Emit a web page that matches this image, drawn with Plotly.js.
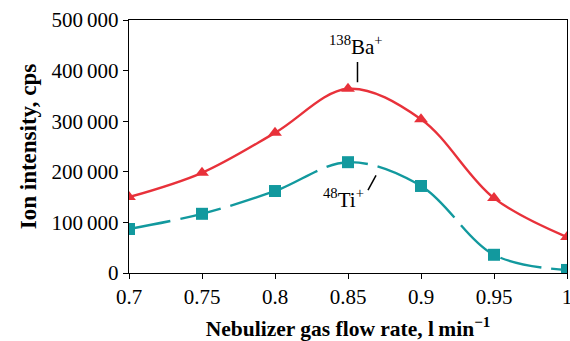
<!DOCTYPE html>
<html><head><meta charset="utf-8">
<script src="https://cdn.plot.ly/plotly-3.0.1.min.js"></script>
<style>body{margin:0;background:#fff}#c{width:570px;height:341px}</style>
</head><body><div id="c"></div>
<script>
const flow = [0.7, 0.75, 0.8, 0.85, 0.9, 0.95, 1.0];
const ba138 = [150000, 198000, 277000, 364000, 304000, 148000, 71000];
const ti48 = [87000, 117000, 162000, 219000, 172000, 36000, 6000];
const xTickVals = [0.7, 0.75, 0.8, 0.85, 0.9, 0.95, 1.0];
const xTickText = ['0.7', '0.75', '0.8', '0.85', '0.9', '0.95', '1'];
const yTickVals = [0, 100000, 200000, 300000, 400000, 500000];
const yTickText = ['0', '100\u2009000', '200\u2009000', '300\u2009000', '400\u2009000', '500\u2009000'];

const font = 'Liberation Serif';
const traces = [
  {x: flow, y: ti48, mode: 'lines+markers', line: {color: '#12999e', width: 2.4, shape: 'spline', dash: '42px,10px'},
   marker: {symbol: 'square', size: 12, color: '#12999e'}},
  {x: flow, y: ba138, mode: 'lines+markers', line: {color: '#e8313a', width: 2.4, shape: 'spline'},
   marker: {symbol: 'triangle-up', size: 12, color: '#e8313a'}}
];
const layout = {
  width: 570, height: 341, showlegend: false,
  margin: {l: 129, r: 3, t: 20, b: 68},
  paper_bgcolor: '#fff', plot_bgcolor: '#fff',
  font: {family: font, size: 21, color: '#000'},
  xaxis: {range: [0.7, 1.0], tickvals: xTickVals, ticktext: xTickText, showgrid: false, zeroline: false,
    showline: true, linecolor: '#000', linewidth: 1.2, mirror: true, ticks: 'outside', ticklen: 5, tickcolor: '#000',
    tickfont: {family: font, size: 21}, ticklabeloverflow: 'allow',
    title: {text: '<b>Nebulizer gas flow rate, l\u2009min<sup>\u22121</sup></b>', font: {size: 21.5, family: font}, standoff: 12}},
  yaxis: {range: [0, 500000], tickvals: yTickVals, ticktext: yTickText, showgrid: false, zeroline: false,
    showline: true, linecolor: '#000', linewidth: 1.2, mirror: true, ticks: 'outside', ticklen: 5, tickcolor: '#000',
    tickfont: {family: font, size: 21}, ticklabeloverflow: 'allow',
    title: {text: '<b>Ion intensity, cps</b>', font: {size: 23, family: font}, standoff: 8}},
  annotations: [
    {x: 0.8555, y: 450000, text: '<sup>138</sup>Ba<sup>+</sup>', showarrow: false, font: {size: 21, family: font}},
    {x: 0.8466, y: 147000, text: '<sup>48</sup>Ti<sup>+</sup>', showarrow: false, font: {size: 21, family: font}}
  ],
  shapes: [
    {type: 'line', x0: 0.8565, x1: 0.8565, y0: 417000, y1: 377000, line: {color: '#000', width: 1.5}},
    {type: 'line', x0: 0.8637, x1: 0.8692, y0: 164000, y1: 193000, line: {color: '#000', width: 1.5}}
  ]
};
Plotly.newPlot('c', traces, layout, {displayModeBar: false, staticPlot: true});
</script></body></html>
